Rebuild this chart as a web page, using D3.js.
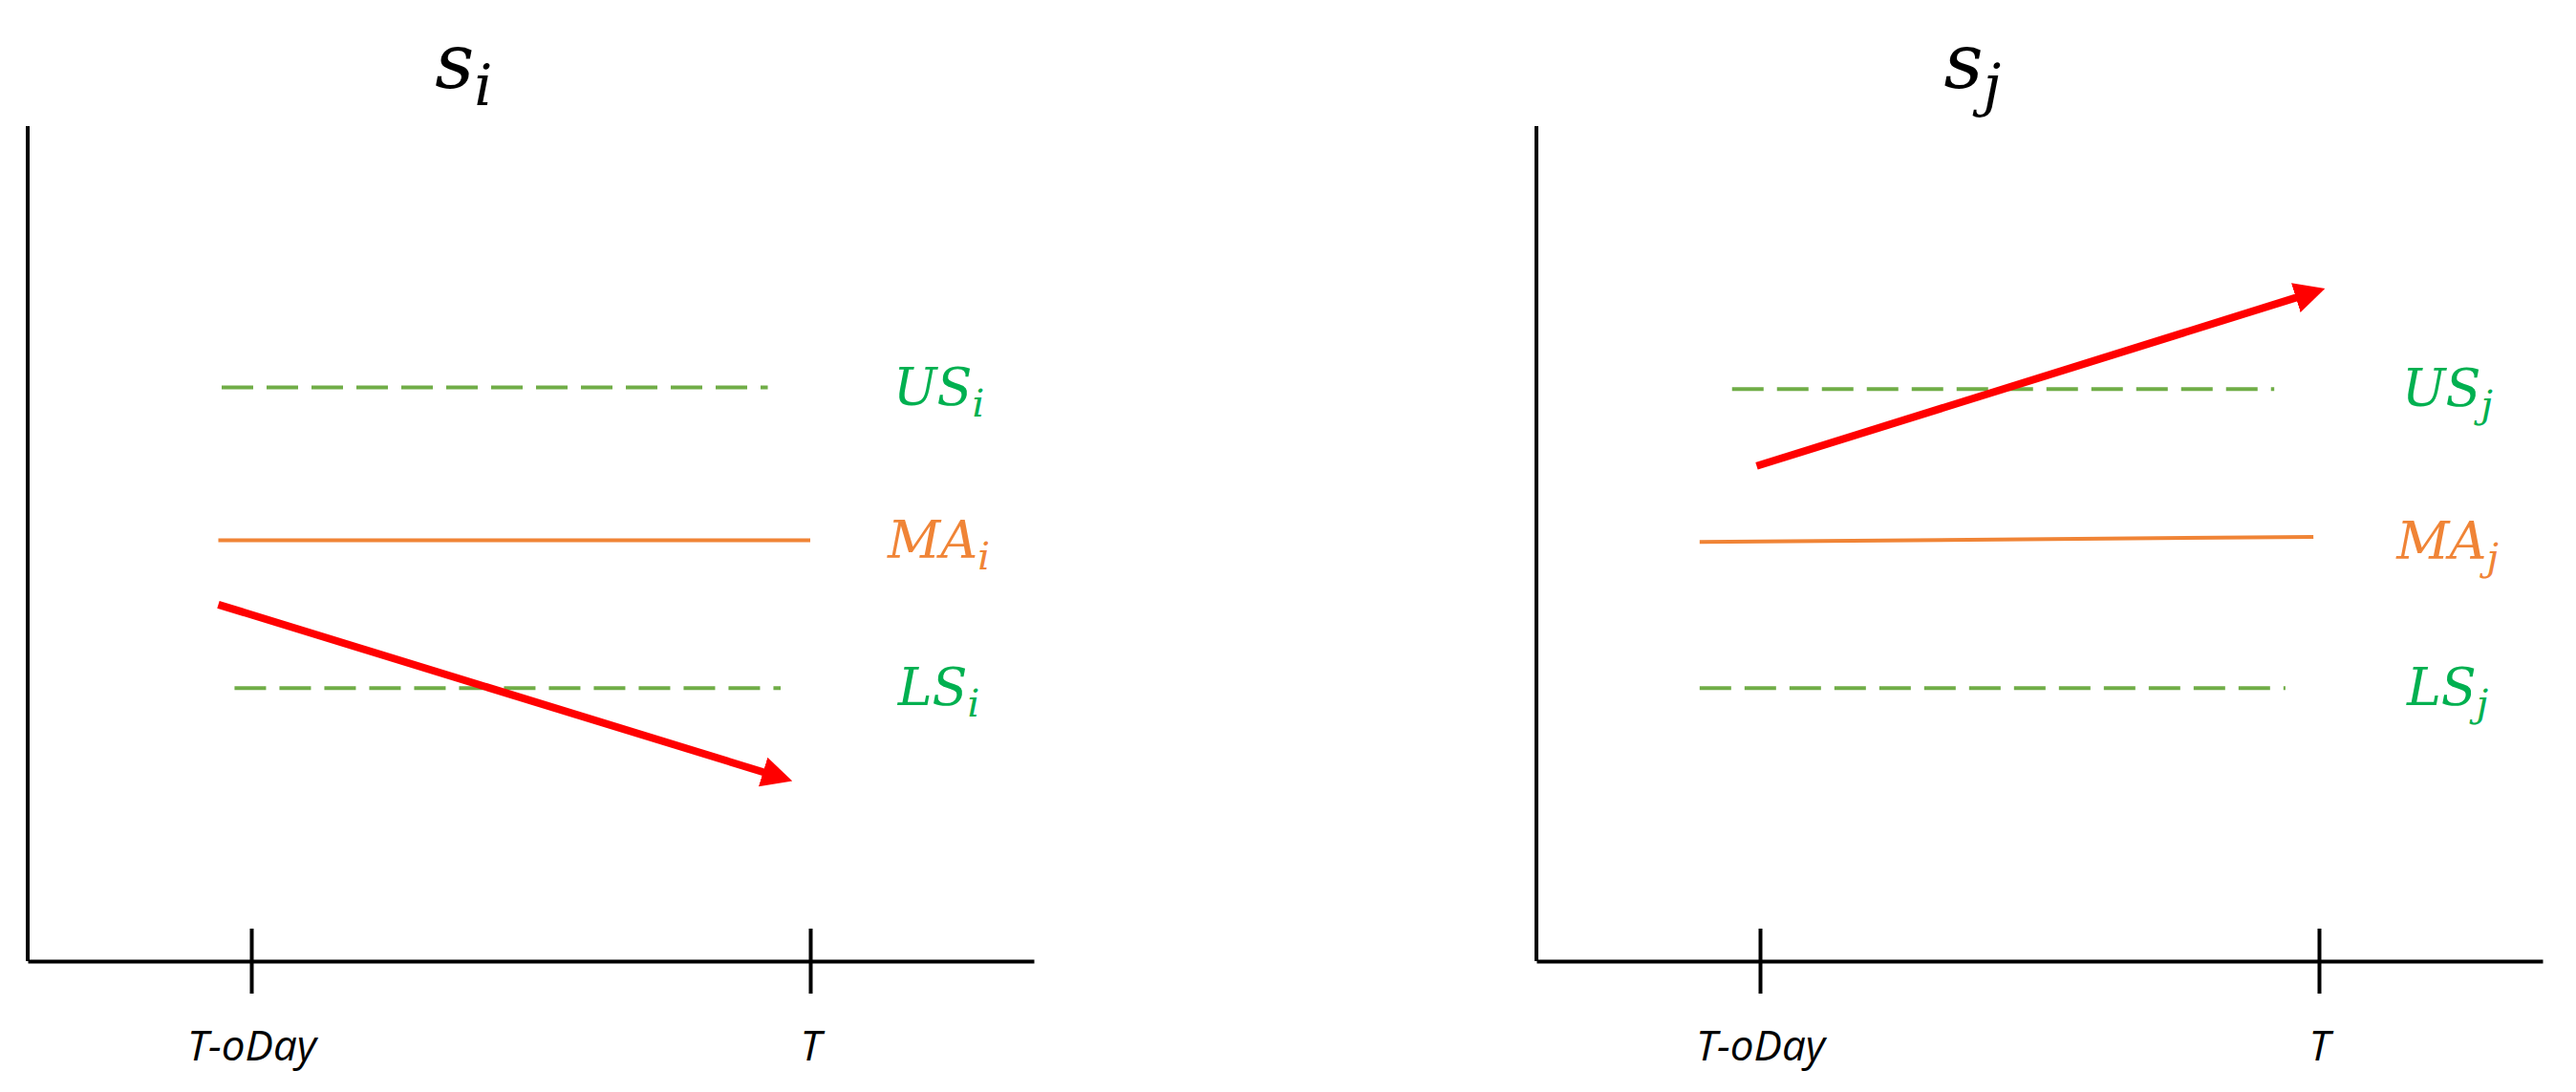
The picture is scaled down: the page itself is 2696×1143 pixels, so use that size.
<!DOCTYPE html>
<meta charset="utf-8">
<style>
body { margin: 0; background: #fff; }
.title { font: italic 80px "DejaVu Serif", serif; fill: #000; }
.lab { font: italic 54px "DejaVu Serif", serif; }
.tick text { font: italic 44px "Open Sans", sans-serif; fill: #000; }
</style>
<body>
<script src="https://cdn.jsdelivr.net/npm/d3@7"></script>
<script>

// x: 0 = T-oDay, 1 = T ; y: 0 = x-axis, 100 = top of y-axis
var tickLabels = ["T-oDay", "T"];
var panels = ["i", "j"];
var usLines  = [[-0.053, 0.924, 68.7, 68.7], [-0.05, 0.92, 68.5, 68.5]];
var maLines  = [[-0.059, 1.0, 50.4, 50.4], [-0.108, 0.99, 50.2, 50.8]];
var lsLines  = [[-0.03, 0.947, 32.7, 32.7], [-0.108, 0.94, 32.7, 32.7]];
var arrows   = [[-0.059, 0.947, 42.7, 22.0], [-0.006, 0.99, 59.3, 80.1]];

var width = 2696, height = 1143;

var svg = d3.select("body").append("svg")
    .attr("width", width)
    .attr("height", height);

var defs = svg.append("defs");
defs.append("marker")
    .attr("id", "head")
    .attr("viewBox", "0 0 10 10")
    .attr("refX", 6).attr("refY", 5)
    .attr("markerWidth", 4).attr("markerHeight", 4)
    .attr("orient", "auto")
  .append("path")
    .attr("d", "M0,0L10,5L0,10z")
    .attr("fill", "#ff0000");

var offsets = [29, 1608];

panels.forEach(function(p, k) {
  var x0 = offsets[k];
  var x = d3.scaleLinear().domain([-0.4, 1.4]).range([x0, x0 + 1053]);
  var y = d3.scaleLinear().domain([0, 100]).range([1006, 132]);
  var g = svg.append("g");

  // title
  g.append("text").attr("class", "title")
      .attr("x", x(0.38)).attr("y", 92)
      .attr("text-anchor", "middle")
      .text("s")
    .append("tspan").attr("font-size", 60).attr("dy", 18).text(p);

  // y axis
  g.append("line")
      .attr("x1", x(-0.4)).attr("x2", x(-0.4))
      .attr("y1", y(100)).attr("y2", y(0))
      .attr("stroke", "#000").attr("stroke-width", 4);

  // x axis
  var xa = d3.axisBottom(x).tickValues([0, 1])
      .tickFormat(function(d, i) { return tickLabels[i]; })
      .tickSize(34).tickSizeOuter(0);
  var ax = g.append("g").attr("transform", "translate(0," + y(0) + ")").call(xa);
  ax.select(".domain").attr("stroke", "#000").attr("stroke-width", 4);
  ax.selectAll(".tick line").attr("stroke", "#000").attr("stroke-width", 4)
      .attr("y1", -34);
  ax.selectAll(".tick text").attr("y", 78).attr("dy", "0.6em");

  function hline(d, color, dash, w) {
    var l = g.append("line")
        .attr("x1", x(d[0])).attr("x2", x(d[1]))
        .attr("y1", y(d[2])).attr("y2", y(d[3]))
        .attr("stroke", color).attr("stroke-width", w);
    if (dash) l.attr("stroke-dasharray", dash);
    return l;
  }
  hline(usLines[k], "#70ad47", "33,14", 4);
  hline(maLines[k], "#f08436", null, 4);
  hline(lsLines[k], "#70ad47", "33,14", 4);
  hline(arrows[k], "#ff0000", null, 8).attr("marker-end", "url(#head)");

  function lab(txt, v, color) {
    g.append("text").attr("class", "lab")
        .attr("x", x(1.23)).attr("y", y(v) + 18)
        .attr("text-anchor", "middle")
        .attr("fill", color)
        .text(txt)
      .append("tspan").attr("font-size", 40).attr("dy", 12).text(p);
  }
  lab("US", usLines[k][2], "#00b050");
  lab("MA", maLines[k][2], "#f08436");
  lab("LS", lsLines[k][2], "#00b050");
});

</script>
</body>
